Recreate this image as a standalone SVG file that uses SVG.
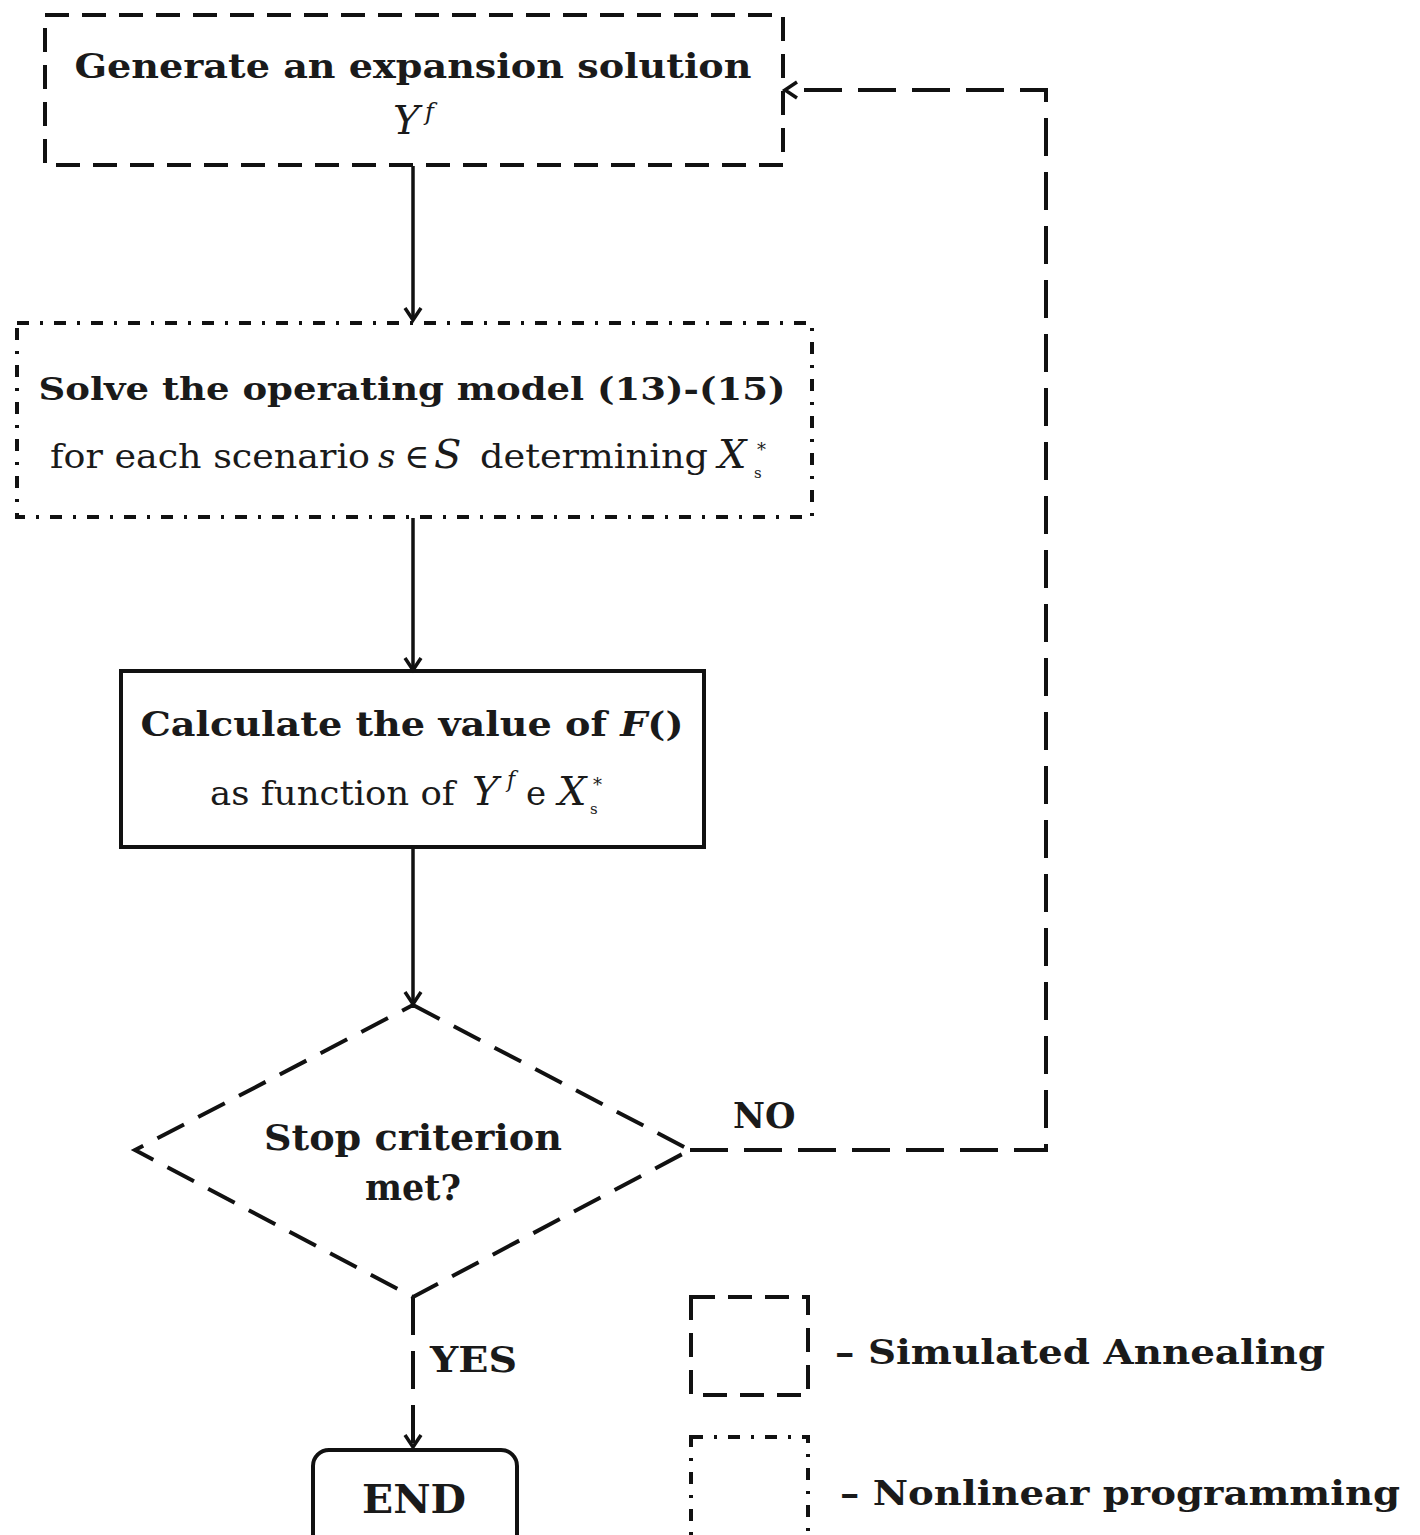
<svg xmlns="http://www.w3.org/2000/svg" width="1420" height="1535" viewBox="0 0 1420 1535">
<style>
text{font-family:"DejaVu Serif","Liberation Serif",serif;fill:#1a1a1a;}
.b{font-weight:bold;}
.i{font-style:italic;}
.dash{fill:none;stroke:#111;stroke-width:4;stroke-dasharray:24 13;}
.dd{fill:none;stroke:#111;stroke-width:4;stroke-dasharray:12 11 3 11;}
.solid{fill:none;stroke:#111;stroke-width:4;}
.conn{fill:none;stroke:#111;stroke-width:3.5;}
.connd{fill:none;stroke:#111;stroke-width:4;stroke-dasharray:38 16;}
</style>
<defs>
<marker id="arr" markerWidth="24" markerHeight="24" refX="20" refY="12" orient="auto" markerUnits="userSpaceOnUse">
<path d="M8,4 L20,12 L8,20" fill="none" stroke="#111" stroke-width="3.5"/>
</marker>
</defs>
<rect width="1420" height="1535" fill="#fff"/>

<g id="connectors">
<line class="conn" x1="413" y1="166" x2="413" y2="320" marker-end="url(#arr)"/>
<line class="conn" x1="413" y1="518" x2="413" y2="670" marker-end="url(#arr)"/>
<line class="conn" x1="413" y1="848" x2="413" y2="1004" marker-end="url(#arr)"/>
<path class="connd" d="M690,1150 L1046,1150 L1046,90 L785,90" marker-end="url(#arr)"/>
<text class="b" x="733" y="1128" font-size="35">NO</text>
<path class="connd" d="M413,1297 L413,1447" marker-end="url(#arr)"/>
<text class="b" x="430" y="1372" font-size="36" textLength="87" lengthAdjust="spacingAndGlyphs">YES</text>
</g>

<g id="n1">
<rect class="dash" x="45" y="15" width="738" height="150"/>
<text class="b" x="413" y="78" font-size="33" text-anchor="middle" textLength="677" lengthAdjust="spacingAndGlyphs">Generate an expansion solution</text>
<text y="134" class="i"><tspan x="393" font-size="40">Y</tspan><tspan x="425" y="120" font-size="24">f</tspan></text>
</g>

<g id="n2">
<rect class="dd" x="17" y="323" width="795" height="194"/>
<text class="b" x="412" y="400" font-size="32" text-anchor="middle" textLength="747" lengthAdjust="spacingAndGlyphs">Solve the operating model (13)-(15)</text>
<text y="468" font-size="34"><tspan x="50" textLength="320" lengthAdjust="spacingAndGlyphs">for each scenario</tspan><tspan class="i" x="378">s</tspan><tspan x="404">∈</tspan><tspan class="i" x="434" font-size="40">S</tspan><tspan x="480" textLength="228" lengthAdjust="spacingAndGlyphs">determining</tspan><tspan class="i" x="718" font-size="40">X</tspan><tspan x="757" y="456" font-size="18">*</tspan><tspan x="754" y="478" font-size="15">s</tspan></text>
</g>

<g id="n3">
<rect class="solid" x="121" y="671" width="583" height="176"/>
<text class="b" x="412" y="736" font-size="33" text-anchor="middle" textLength="543" lengthAdjust="spacingAndGlyphs">Calculate the value of <tspan class="i">F</tspan>()</text>
<text y="805" font-size="34"><tspan x="210" textLength="245" lengthAdjust="spacingAndGlyphs">as function of</tspan><tspan class="i" x="472" font-size="40">Y</tspan><tspan class="i" x="507" y="787" font-size="22">f</tspan><tspan x="526" y="805">e</tspan><tspan class="i" x="558" font-size="40">X</tspan><tspan x="593" y="791" font-size="18">*</tspan><tspan x="590" y="814" font-size="15">s</tspan></text>
</g>

<g id="n4">
<path class="dash" style="stroke-dasharray:30 16" d="M413,1005 L690,1150 L413,1297 L135,1150 Z"/>
<text class="b" x="413" y="1150" font-size="35" text-anchor="middle" textLength="298" lengthAdjust="spacingAndGlyphs">Stop criterion</text>
<text class="b" x="413" y="1200" font-size="35" text-anchor="middle">met?</text>
</g>

<g id="n5">
<rect class="solid" x="313" y="1450" width="204" height="100" rx="16"/>
<text class="b" x="414" y="1513" font-size="40" text-anchor="middle" textLength="104" lengthAdjust="spacingAndGlyphs">END</text>
</g>

<g id="legend">
<rect class="dash" x="691" y="1297" width="117" height="98"/>
<text class="b" x="835" y="1364" font-size="33" textLength="490" lengthAdjust="spacingAndGlyphs">– Simulated Annealing</text>
<rect class="dd" x="691" y="1437" width="117" height="110"/>
<text class="b" x="840" y="1505" font-size="33" textLength="560" lengthAdjust="spacingAndGlyphs">– Nonlinear programming</text>
</g>
</svg>
